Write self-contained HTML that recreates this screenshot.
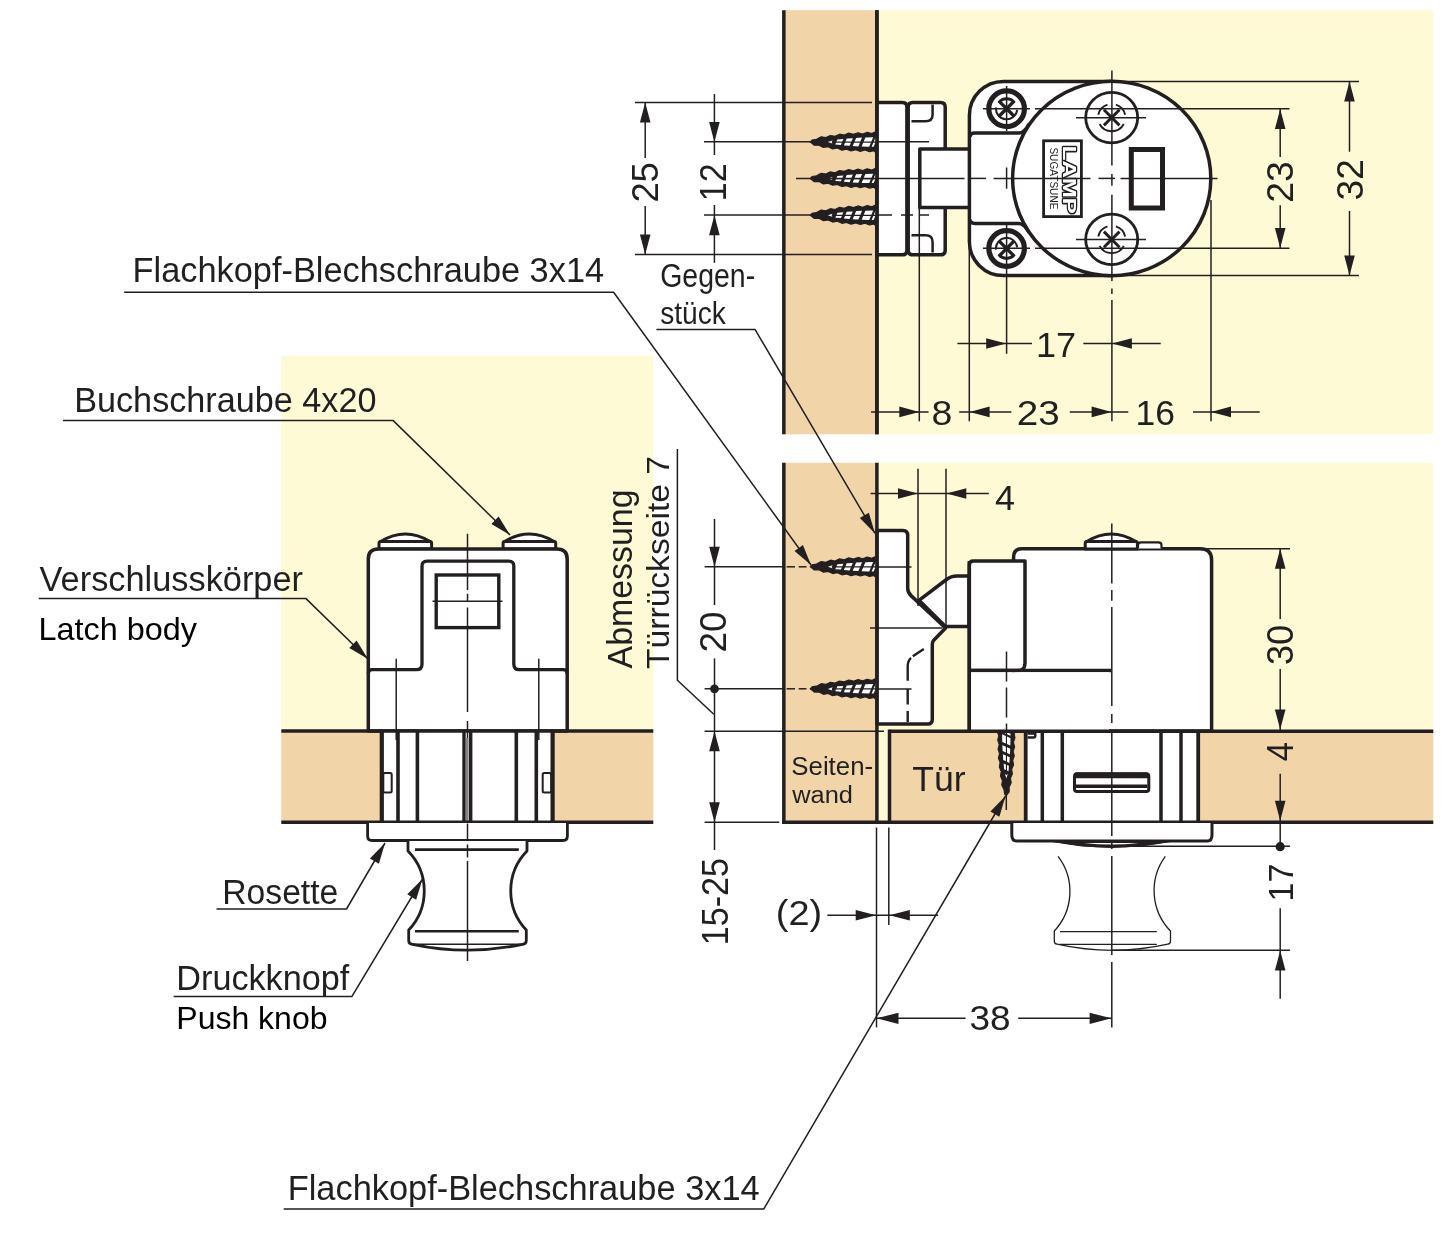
<!DOCTYPE html>
<html><head><meta charset="utf-8"><title>Push latch drawing</title>
<style>
html,body{margin:0;padding:0;background:#fff;}
svg{display:block;}
text{font-family:"Liberation Sans",sans-serif;filter:grayscale(1);}
</style></head><body>
<svg width="1445" height="1236" viewBox="0 0 1445 1236">
<rect x="877" y="10.2" width="556.1" height="424.1" fill="#fffad6" />
<rect x="783.75" y="10.2" width="93.25" height="424.1" fill="#f1d5a8" />
<line x1="783.85" y1="10.2" x2="783.85" y2="434.3" stroke="#231f20" stroke-width="3.5" />
<line x1="876.9" y1="10.2" x2="876.9" y2="434.3" stroke="#231f20" stroke-width="3.5" />
<rect x="877" y="462.8" width="556.1" height="268.5" fill="#fffad6" />
<rect x="783.75" y="462.8" width="93.25" height="359.5" fill="#f1d5a8" />
<rect x="877" y="731" width="13" height="91.5" fill="#fffad6" />
<rect x="889.5" y="731.25" width="543.8" height="91.25" fill="#f1d5a8" />
<rect x="281.3" y="355.6" width="372" height="375.4" fill="#fffad6" />
<rect x="281.3" y="731" width="372" height="91.3" fill="#f1d5a8" />
<line x1="635" y1="102.6" x2="872" y2="102.6" stroke="#231f20" stroke-width="1.5" />
<line x1="635" y1="254.6" x2="872" y2="254.6" stroke="#231f20" stroke-width="1.5" />
<line x1="704" y1="141.8" x2="812" y2="141.8" stroke="#231f20" stroke-width="1.5" />
<line x1="704" y1="215.1" x2="812" y2="215.1" stroke="#231f20" stroke-width="1.5" />
<path d="M877,102.5 H902.4 Q906.9,102.5 906.9,107 V250.3 Q906.9,254.8 902.4,254.8 H877 Z" fill="#fff" stroke="#231f20" stroke-width="3.5" stroke-linejoin="round" />
<path d="M912.7,102.5 Q908.2,102.5 908.2,107 V250.3 Q908.2,254.8 912.7,254.8 H940.5 Q945.2,254.8 945.2,250.3 V107 Q945.2,102.5 940.5,102.5 Z" fill="#fff" stroke="#231f20" stroke-width="3.5" stroke-linejoin="round" />
<path d="M911.5,121.3 H925.5 Q932.6,121.3 932.6,114.5 V104.6" fill="none" stroke="#231f20" stroke-width="2.5" stroke-linejoin="round" />
<path d="M911.5,235.3 H925.5 Q932.6,235.3 932.6,242 V252.4" fill="none" stroke="#231f20" stroke-width="2.5" stroke-linejoin="round" />
<line x1="877" y1="141.8" x2="929" y2="141.8" stroke="#231f20" stroke-width="1.5" />
<line x1="877" y1="215.1" x2="929" y2="215.1" stroke="#231f20" stroke-width="1.5" stroke-dasharray="15 9 12 7 9 0"/>
<path d="M969,149 H919.8 V207.4 H969" fill="#fff" stroke="#231f20" stroke-width="3.5" stroke-linejoin="round" />
<g transform="translate(811 142) rotate(0) scale(1.0000 1.0000)"><polygon points="-0.80,0.00 0.00,-0.60 1.00,-1.90 5.60,-2.63 10.20,-5.13 14.80,-4.37 19.40,-6.52 24.00,-5.66 28.60,-7.80 33.20,-6.98 37.80,-8.83 42.40,-7.60 47.00,-9.26 51.60,-7.90 56.20,-9.59 60.80,-8.38 64.00,-9.90 64.00,9.90 63.10,8.72 58.50,9.68 53.90,8.00 49.30,9.31 44.70,7.71 40.10,8.97 35.50,7.19 30.90,8.13 26.30,5.98 21.70,6.84 17.10,4.69 12.50,5.50 7.90,3.14 3.30,3.26 0.00,0.60" fill="#231f20" stroke="#231f20" stroke-width="1.2" stroke-linejoin="round"/><polygon points="25.49,-0.45 31.29,-0.45 32.32,-2.90 26.35,-2.50" fill="#fff"/><polygon points="24.98,0.75 30.79,0.75 29.88,2.90 24.25,2.50" fill="#fff"/><polygon points="34.49,-0.45 40.39,-0.45 41.80,-3.80 35.73,-3.40" fill="#fff"/><polygon points="33.98,0.75 39.89,0.75 38.60,3.80 32.87,3.40" fill="#fff"/><polygon points="43.59,-0.45 49.39,-0.45 51.05,-4.40 45.12,-4.10" fill="#fff"/><polygon points="43.09,0.75 48.89,0.75 47.35,4.40 41.68,4.10" fill="#fff"/><polygon points="52.69,-0.45 60.39,-0.45 62.17,-4.70 54.39,-4.50" fill="#fff"/><polygon points="52.19,0.75 59.89,0.75 58.23,4.70 50.61,4.50" fill="#fff"/><polygon points="62.79,-0.45 64.79,-0.45 66.57,-4.70 64.57,-4.70" fill="#fff"/><polygon points="62.29,0.75 64.28,0.75 62.63,4.70 60.63,4.70" fill="#fff"/><polygon points="16.8,0.1 21.6,-1.5 20.6,0.1 21.4,1.6" fill="#fff"/></g>
<g transform="translate(811 178.4) rotate(0) scale(1.0000 1.0000)"><polygon points="-0.80,0.00 0.00,-0.60 1.00,-1.90 5.60,-2.63 10.20,-5.13 14.80,-4.37 19.40,-6.52 24.00,-5.66 28.60,-7.80 33.20,-6.98 37.80,-8.83 42.40,-7.60 47.00,-9.26 51.60,-7.90 56.20,-9.59 60.80,-8.38 64.00,-9.90 64.00,9.90 63.10,8.72 58.50,9.68 53.90,8.00 49.30,9.31 44.70,7.71 40.10,8.97 35.50,7.19 30.90,8.13 26.30,5.98 21.70,6.84 17.10,4.69 12.50,5.50 7.90,3.14 3.30,3.26 0.00,0.60" fill="#231f20" stroke="#231f20" stroke-width="1.2" stroke-linejoin="round"/><polygon points="25.49,-0.45 31.29,-0.45 32.32,-2.90 26.35,-2.50" fill="#fff"/><polygon points="24.98,0.75 30.79,0.75 29.88,2.90 24.25,2.50" fill="#fff"/><polygon points="34.49,-0.45 40.39,-0.45 41.80,-3.80 35.73,-3.40" fill="#fff"/><polygon points="33.98,0.75 39.89,0.75 38.60,3.80 32.87,3.40" fill="#fff"/><polygon points="43.59,-0.45 49.39,-0.45 51.05,-4.40 45.12,-4.10" fill="#fff"/><polygon points="43.09,0.75 48.89,0.75 47.35,4.40 41.68,4.10" fill="#fff"/><polygon points="52.69,-0.45 60.39,-0.45 62.17,-4.70 54.39,-4.50" fill="#fff"/><polygon points="52.19,0.75 59.89,0.75 58.23,4.70 50.61,4.50" fill="#fff"/><polygon points="62.79,-0.45 64.79,-0.45 66.57,-4.70 64.57,-4.70" fill="#fff"/><polygon points="62.29,0.75 64.28,0.75 62.63,4.70 60.63,4.70" fill="#fff"/><polygon points="16.8,0.1 21.6,-1.5 20.6,0.1 21.4,1.6" fill="#fff"/></g>
<g transform="translate(811 215.2) rotate(0) scale(1.0000 1.0000)"><polygon points="-0.80,0.00 0.00,-0.60 1.00,-1.90 5.60,-2.63 10.20,-5.13 14.80,-4.37 19.40,-6.52 24.00,-5.66 28.60,-7.80 33.20,-6.98 37.80,-8.83 42.40,-7.60 47.00,-9.26 51.60,-7.90 56.20,-9.59 60.80,-8.38 64.00,-9.90 64.00,9.90 63.10,8.72 58.50,9.68 53.90,8.00 49.30,9.31 44.70,7.71 40.10,8.97 35.50,7.19 30.90,8.13 26.30,5.98 21.70,6.84 17.10,4.69 12.50,5.50 7.90,3.14 3.30,3.26 0.00,0.60" fill="#231f20" stroke="#231f20" stroke-width="1.2" stroke-linejoin="round"/><polygon points="25.49,-0.45 31.29,-0.45 32.32,-2.90 26.35,-2.50" fill="#fff"/><polygon points="24.98,0.75 30.79,0.75 29.88,2.90 24.25,2.50" fill="#fff"/><polygon points="34.49,-0.45 40.39,-0.45 41.80,-3.80 35.73,-3.40" fill="#fff"/><polygon points="33.98,0.75 39.89,0.75 38.60,3.80 32.87,3.40" fill="#fff"/><polygon points="43.59,-0.45 49.39,-0.45 51.05,-4.40 45.12,-4.10" fill="#fff"/><polygon points="43.09,0.75 48.89,0.75 47.35,4.40 41.68,4.10" fill="#fff"/><polygon points="52.69,-0.45 60.39,-0.45 62.17,-4.70 54.39,-4.50" fill="#fff"/><polygon points="52.19,0.75 59.89,0.75 58.23,4.70 50.61,4.50" fill="#fff"/><polygon points="62.79,-0.45 64.79,-0.45 66.57,-4.70 64.57,-4.70" fill="#fff"/><polygon points="62.29,0.75 64.28,0.75 62.63,4.70 60.63,4.70" fill="#fff"/><polygon points="16.8,0.1 21.6,-1.5 20.6,0.1 21.4,1.6" fill="#fff"/></g>
<line x1="876.9" y1="10.2" x2="876.9" y2="434.3" stroke="#231f20" stroke-width="3.5" />
<path d="M1111.5,81.4 H1003.4 A34,34 0 0 0 969.4,115.4 V241.6 A34,34 0 0 0 1003.4,275.6 H1111.5 Z" fill="#fff" stroke="#231f20" stroke-width="3.5" stroke-linejoin="round" />
<ellipse cx="1111.7" cy="178.5" rx="99.1" ry="97.2" fill="#fff" stroke="#231f20" stroke-width="3.5"/>
<path d="M970,137 Q970,133.1 975,133.1 H1019 Q1024,133.1 1029,124" fill="none" stroke="#231f20" stroke-width="3.5" stroke-linejoin="round" />
<path d="M970,219.5 Q970,223.4 975,223.4 H1019 Q1024,223.4 1029,232.5" fill="none" stroke="#231f20" stroke-width="3.5" stroke-linejoin="round" />
<circle cx="1006.6" cy="108.7" r="17.8" fill="#fff" stroke="#231f20" stroke-width="5.2"/>
<path d="M999.0,101.10000000000001 L1014.2,116.3 M1014.2,101.10000000000001 L999.0,116.3" stroke="#231f20" stroke-width="3.4" fill="none"/>
<path d="M996.0,107.5 A10.6,10.6 0 0 0 1017.2,109.9" stroke="#231f20" stroke-width="2" fill="none"/>
<path d="M998.80,102.60 A9.9,9.9 0 0 1 1014.40,102.60" stroke="#231f20" stroke-width="3" fill="none"/>
<circle cx="1006.6" cy="248.5" r="17.8" fill="#fff" stroke="#231f20" stroke-width="5.2"/>
<path d="M999.0,240.9 L1014.2,256.1 M1014.2,240.9 L999.0,256.1" stroke="#231f20" stroke-width="3.4" fill="none"/>
<path d="M996.0,249.7 A10.6,10.6 0 0 1 1017.2,247.3" stroke="#231f20" stroke-width="2" fill="none"/>
<path d="M998.80,254.60 A9.9,9.9 0 0 0 1014.40,254.60" stroke="#231f20" stroke-width="3" fill="none"/>
<ellipse cx="1111.7" cy="117.6" rx="26" ry="25.2" fill="#fff" stroke="#231f20" stroke-width="2.8"/>
<path d="M1103.9,109.8 L1119.5,125.39999999999999 M1119.5,109.8 L1103.9,125.39999999999999" stroke="#231f20" stroke-width="2.9" fill="none"/>
<path d="M1123.80,124.03 A13.7,13.7 0 0 1 1099.60,124.03" stroke="#231f20" stroke-width="1.9" fill="none"/>
<path d="M1098.30,114.75 A13.7,13.7 0 0 1 1107.47,104.57" stroke="#231f20" stroke-width="1.9" fill="none"/>
<path d="M1115.93,104.57 A13.7,13.7 0 0 1 1125.10,114.75" stroke="#231f20" stroke-width="1.9" fill="none"/>
<ellipse cx="1111.7" cy="239.4" rx="26" ry="25.2" fill="#fff" stroke="#231f20" stroke-width="2.8"/>
<path d="M1103.9,231.6 L1119.5,247.20000000000002 M1119.5,231.6 L1103.9,247.20000000000002" stroke="#231f20" stroke-width="2.9" fill="none"/>
<path d="M1123.80,245.83 A13.7,13.7 0 0 1 1099.60,245.83" stroke="#231f20" stroke-width="1.9" fill="none"/>
<path d="M1098.30,236.55 A13.7,13.7 0 0 1 1107.47,226.37" stroke="#231f20" stroke-width="1.9" fill="none"/>
<path d="M1115.93,226.37 A13.7,13.7 0 0 1 1125.10,236.55" stroke="#231f20" stroke-width="1.9" fill="none"/>
<rect x="1131.3" y="149.5" width="31.2" height="58.5" fill="#fff" stroke="#231f20" stroke-width="5"/>
<rect x="1043.6" y="140.8" width="37.8" height="75.8" fill="#fff" stroke="#231f20" stroke-width="2.8"/>
<text x="1062.8" y="145.8" font-size="18" font-weight="bold" fill="#fff" stroke="#231f20" stroke-width="2.5" paint-order="stroke" stroke-linejoin="round" textLength="68" lengthAdjust="spacingAndGlyphs" transform="rotate(90 1062.8 145.8)">LAMP</text>
<text x="1049.6" y="147.4" font-size="11.8" fill="#231f20" textLength="62" lengthAdjust="spacingAndGlyphs" transform="rotate(90 1049.6 147.4)">SUGATSUNE</text>
<line x1="796" y1="178.4" x2="964.5" y2="178.4" stroke="#231f20" stroke-width="1.5" />
<line x1="970.3" y1="178.4" x2="986" y2="178.4" stroke="#231f20" stroke-width="1.5" />
<line x1="993.6" y1="178.4" x2="1090.5" y2="178.4" stroke="#231f20" stroke-width="1.5" />
<line x1="1098.5" y1="178.4" x2="1115" y2="178.4" stroke="#231f20" stroke-width="1.5" />
<line x1="1120.5" y1="178.4" x2="1217.5" y2="178.4" stroke="#231f20" stroke-width="1.5" />
<line x1="1006.6" y1="167.5" x2="1006.6" y2="188.7" stroke="#231f20" stroke-width="1.5" />
<line x1="1111.9" y1="70.5" x2="1111.9" y2="165.6" stroke="#231f20" stroke-width="1.5" />
<line x1="1111.9" y1="174" x2="1111.9" y2="185.8" stroke="#231f20" stroke-width="1.5" />
<line x1="1111.9" y1="194.7" x2="1111.9" y2="281" stroke="#231f20" stroke-width="1.5" />
<line x1="1111.9" y1="288.5" x2="1111.9" y2="294" stroke="#231f20" stroke-width="1.5" />
<line x1="1111.9" y1="300" x2="1111.9" y2="421.3" stroke="#231f20" stroke-width="1.5" />
<line x1="983" y1="108.7" x2="1030" y2="108.7" stroke="#231f20" stroke-width="1.5" />
<line x1="1035" y1="108.7" x2="1289.5" y2="108.7" stroke="#231f20" stroke-width="1.5" />
<line x1="983" y1="248.3" x2="1030" y2="248.3" stroke="#231f20" stroke-width="1.5" />
<line x1="1035" y1="248.3" x2="1289.5" y2="248.3" stroke="#231f20" stroke-width="1.5" />
<line x1="1006.6" y1="86" x2="1006.6" y2="131" stroke="#231f20" stroke-width="1.5" />
<line x1="1006.6" y1="225" x2="1006.6" y2="353.8" stroke="#231f20" stroke-width="1.5" />
<line x1="1076" y1="117.8" x2="1146" y2="117.8" stroke="#231f20" stroke-width="1.5" />
<line x1="1076" y1="239.5" x2="1146" y2="239.5" stroke="#231f20" stroke-width="1.5" />
<line x1="1111.9" y1="81.4" x2="1359" y2="81.4" stroke="#231f20" stroke-width="1.5" />
<line x1="1111.9" y1="275.6" x2="1359" y2="275.6" stroke="#231f20" stroke-width="1.5" />
<line x1="1280.2" y1="108.7" x2="1280.2" y2="157" stroke="#231f20" stroke-width="1.5" />
<line x1="1280.2" y1="205.2" x2="1280.2" y2="248.3" stroke="#231f20" stroke-width="1.5" />
<polygon points="1280.20,108.90 1285.50,128.90 1274.90,128.90" fill="#231f20"/>
<polygon points="1280.20,248.10 1274.90,228.10 1285.50,228.10" fill="#231f20"/>
<text font-size="100" fill="#231f20" transform="translate(1293.23 202.67) rotate(-90) scale(0.3734 0.3676)">23</text>
<line x1="1349.5" y1="81.4" x2="1349.5" y2="151.7" stroke="#231f20" stroke-width="1.5" />
<line x1="1349.5" y1="211" x2="1349.5" y2="275.6" stroke="#231f20" stroke-width="1.5" />
<polygon points="1349.50,81.60 1354.80,101.60 1344.20,101.60" fill="#231f20"/>
<polygon points="1349.50,275.40 1344.20,255.40 1354.80,255.40" fill="#231f20"/>
<text font-size="100" fill="#231f20" transform="translate(1362.64 200.48) rotate(-90) scale(0.3706 0.3648)">32</text>
<line x1="645.2" y1="102.6" x2="645.2" y2="158" stroke="#231f20" stroke-width="1.5" />
<line x1="645.2" y1="206" x2="645.2" y2="254.6" stroke="#231f20" stroke-width="1.5" />
<polygon points="645.20,102.60 650.50,122.60 639.90,122.60" fill="#231f20"/>
<polygon points="645.20,254.60 639.90,234.60 650.50,234.60" fill="#231f20"/>
<text font-size="100" fill="#231f20" transform="translate(658.23 202.62) rotate(-90) scale(0.3637 0.3676)">25</text>
<line x1="714.4" y1="94" x2="714.4" y2="155" stroke="#231f20" stroke-width="1.5" />
<line x1="714.4" y1="205" x2="714.4" y2="262.8" stroke="#231f20" stroke-width="1.5" />
<polygon points="714.40,142.00 709.10,122.00 719.70,122.00" fill="#231f20"/>
<polygon points="714.40,215.20 719.70,235.20 709.10,235.20" fill="#231f20"/>
<text font-size="100" fill="#231f20" transform="translate(725.90 201.16) rotate(-90) scale(0.3411 0.3614)">12</text>
<line x1="919.3" y1="208" x2="919.3" y2="421.3" stroke="#231f20" stroke-width="1.5" />
<line x1="969.3" y1="245" x2="969.3" y2="421.3" stroke="#231f20" stroke-width="1.5" />
<line x1="1211" y1="200" x2="1211" y2="421.3" stroke="#231f20" stroke-width="1.5" />
<line x1="957.4" y1="343.5" x2="1032" y2="343.5" stroke="#231f20" stroke-width="1.5" />
<line x1="1083.3" y1="343.5" x2="1160.7" y2="343.5" stroke="#231f20" stroke-width="1.5" />
<polygon points="1006.20,343.50 986.20,348.80 986.20,338.20" fill="#231f20"/>
<polygon points="1111.90,343.50 1131.90,338.20 1131.90,348.80" fill="#231f20"/>
<text font-size="100" fill="#231f20" transform="translate(1035.99 356.50) scale(0.3614 0.3464)">17</text>
<line x1="871" y1="411.9" x2="928.6" y2="411.9" stroke="#231f20" stroke-width="1.5" />
<polygon points="919.30,411.90 899.30,417.20 899.30,406.60" fill="#231f20"/>
<text font-size="100" fill="#231f20" transform="translate(931.41 425.46) scale(0.3745 0.3423)">8</text>
<line x1="959.2" y1="411.9" x2="1011.4" y2="411.9" stroke="#231f20" stroke-width="1.5" />
<polygon points="969.60,411.90 989.60,406.60 989.60,417.20" fill="#231f20"/>
<text font-size="100" fill="#231f20" transform="translate(1016.67 425.46) scale(0.3862 0.3423)">23</text>
<line x1="1069.8" y1="411.9" x2="1128.3" y2="411.9" stroke="#231f20" stroke-width="1.5" />
<polygon points="1111.60,411.90 1091.60,417.20 1091.60,406.60" fill="#231f20"/>
<text font-size="100" fill="#231f20" transform="translate(1135.54 425.46) scale(0.3545 0.3423)">16</text>
<line x1="1193" y1="411.9" x2="1259.7" y2="411.9" stroke="#231f20" stroke-width="1.5" />
<polygon points="1211.00,411.90 1231.00,406.60 1231.00,417.20" fill="#231f20"/>
<text x="132.6" y="282.4" font-size="34.2" text-anchor="start" fill="#231f20" textLength="471.5" lengthAdjust="spacingAndGlyphs"  >Flachkopf-Blechschraube 3x14</text>
<path d="M124.2,292.3 H613.6 L811,565" fill="none" stroke="#231f20" stroke-width="1.5" stroke-linejoin="round" />
<polygon points="811.00,565.00 794.49,551.02 802.92,544.93" fill="#231f20"/>
<text font-size="100" fill="#231f20" transform="translate(660.17 286.64) scale(0.2851 0.3363)">Gegen-</text>
<text font-size="100" fill="#231f20" transform="translate(660.16 323.88) scale(0.2811 0.3170)">stück</text>
<path d="M656.4,329.4 H755 L875,533.4" fill="none" stroke="#231f20" stroke-width="1.5" stroke-linejoin="round" />
<polygon points="875.00,533.40 859.87,517.94 868.83,512.66" fill="#231f20"/>
<text x="74.2" y="412.2" font-size="34.2" text-anchor="start" fill="#231f20" textLength="302.3" lengthAdjust="spacingAndGlyphs"  >Buchschraube 4x20</text>
<path d="M63,420.4 H393 L510,535" fill="none" stroke="#231f20" stroke-width="1.5" stroke-linejoin="round" />
<polygon points="510.00,535.00 491.36,524.02 498.64,516.59" fill="#231f20"/>
<text x="39.6" y="591" font-size="34.2" text-anchor="start" fill="#231f20" textLength="263.4" lengthAdjust="spacingAndGlyphs"  >Verschlusskörper</text>
<path d="M38.7,598.6 H306 L368,659" fill="none" stroke="#231f20" stroke-width="1.5" stroke-linejoin="round" />
<polygon points="368.00,659.00 349.33,648.07 356.59,640.62" fill="#231f20"/>
<text x="38.6" y="639.6" font-size="32" text-anchor="start" fill="#000" textLength="158.4" lengthAdjust="spacingAndGlyphs"  >Latch body</text>
<text x="222.3" y="904" font-size="34.2" text-anchor="start" fill="#231f20" textLength="116" lengthAdjust="spacingAndGlyphs"  >Rosette</text>
<path d="M216.5,909 H346.5 L385,843" fill="none" stroke="#231f20" stroke-width="1.5" stroke-linejoin="round" />
<polygon points="385.00,843.00 378.91,863.76 369.93,858.52" fill="#231f20"/>
<text x="176.3" y="989.8" font-size="34.2" text-anchor="start" fill="#231f20" textLength="173" lengthAdjust="spacingAndGlyphs"  >Druckknopf</text>
<path d="M173.6,996.6 H351.8 L422.5,879" fill="none" stroke="#231f20" stroke-width="1.5" stroke-linejoin="round" />
<polygon points="422.50,879.00 416.14,899.68 407.22,894.32" fill="#231f20"/>
<text x="176.3" y="1028.5" font-size="32" text-anchor="start" fill="#000" textLength="151.2" lengthAdjust="spacingAndGlyphs"  >Push knob</text>
<text x="287.7" y="1199.6" font-size="34.2" text-anchor="start" fill="#231f20" textLength="472" lengthAdjust="spacingAndGlyphs"  >Flachkopf-Blechschraube 3x14</text>
<path d="M283.7,1209.1 H763.7 L1005.5,796" fill="none" stroke="#231f20" stroke-width="1.5" stroke-linejoin="round" />
<polygon points="1005.50,796.00 999.37,816.75 990.40,811.49" fill="#231f20"/>
<path d="M380.5,541.5 Q405.3,526.3 430.1,541.5 Z" fill="#fff" stroke="#231f20" stroke-width="3.0" stroke-linejoin="round" />
<path d="M379,549 V543.3 Q379,541.5 381,541.5 H429.6 Q431.6,541.5 431.6,543.3 V549 Z" fill="#fff" stroke="#231f20" stroke-width="3.0" stroke-linejoin="round" />
<path d="M504.6,541.5 Q529.4,526.3 554.2,541.5 Z" fill="#fff" stroke="#231f20" stroke-width="3.0" stroke-linejoin="round" />
<path d="M503.1,549 V543.3 Q503.1,541.5 505.1,541.5 H553.7 Q555.7,541.5 555.7,543.3 V549 Z" fill="#fff" stroke="#231f20" stroke-width="3.0" stroke-linejoin="round" />
<path d="M368.3,731 V559 Q368.3,549 378.5,549 H557 Q567.2,549 567.2,559 V731 Z" fill="#fff" stroke="#231f20" stroke-width="3.5" stroke-linejoin="round" />
<path d="M368.3,673.5 Q368.3,669.7 372.3,669.7 H416.5 Q422,669.7 422,664 V566 Q422,561.1 427,561.1 H508.8 Q513.8,561.1 513.8,566 V664 Q513.8,669.7 519.3,669.7 H563 Q567.2,669.7 567.2,673.5" fill="none" stroke="#231f20" stroke-width="3.3" stroke-linejoin="round" />
<rect x="436.2" y="575" width="62.6" height="52.6" fill="#fff" stroke="#231f20" stroke-width="3.4"/>
<line x1="432.5" y1="601.3" x2="502.5" y2="601.3" stroke="#231f20" stroke-width="1.5" />
<rect x="381.3" y="731" width="171.8" height="91.3" fill="#fff" />
<line x1="381.8" y1="731" x2="381.8" y2="822.3" stroke="#231f20" stroke-width="4.2" />
<line x1="552.6" y1="731" x2="552.6" y2="822.3" stroke="#231f20" stroke-width="4.2" />
<line x1="398" y1="731" x2="398" y2="822.3" stroke="#231f20" stroke-width="3.6" />
<line x1="417.4" y1="731" x2="417.4" y2="822.3" stroke="#231f20" stroke-width="3.6" />
<line x1="516.3" y1="731" x2="516.3" y2="822.3" stroke="#231f20" stroke-width="3.6" />
<line x1="536.3" y1="731" x2="536.3" y2="822.3" stroke="#231f20" stroke-width="3.6" />
<line x1="464" y1="731" x2="464" y2="822.3" stroke="#231f20" stroke-width="3.4" />
<line x1="470.7" y1="731" x2="470.7" y2="822.3" stroke="#231f20" stroke-width="3.4" />
<line x1="467.3" y1="738" x2="467.3" y2="821" stroke="#858585" stroke-width="2.8"/>
<line x1="396.2" y1="658.8" x2="396.2" y2="740" stroke="#231f20" stroke-width="1.5" />
<line x1="538.8" y1="658.8" x2="538.8" y2="740" stroke="#231f20" stroke-width="1.5" />
<rect x="383.3" y="773" width="8.4" height="19.6" rx="1.5" fill="#fff" stroke="#231f20" stroke-width="2"/>
<rect x="542.7" y="773" width="8.4" height="19.6" rx="1.5" fill="#fff" stroke="#231f20" stroke-width="2"/>
<line x1="281.3" y1="731.1" x2="653.3" y2="731.1" stroke="#231f20" stroke-width="3.5" />
<line x1="281.3" y1="822.3" x2="653.3" y2="822.3" stroke="#231f20" stroke-width="3.5" />
<path d="M367.6,823 V836 Q367.6,840.5 372,840.5 H563 Q567.4,840.5 567.4,836 V823" fill="#fff" stroke="#231f20" stroke-width="2.8" stroke-linejoin="round" />
<path d="M408,841 V851 A57,57 0 0 1 408.7,930 V940.5 Q408.7,944 412.5,944.3 Q467.5,956 522.5,944.3 Q526.3,944 526.3,940.5 V930 A57,57 0 0 1 527,851 V841" fill="#fff" stroke="#231f20" stroke-width="2.8" stroke-linejoin="round" />
<line x1="412.5" y1="944.3" x2="522.5" y2="944.3" stroke="#231f20" stroke-width="1.4" />
<line x1="415" y1="849.6" x2="518.8" y2="849.6" stroke="#231f20" stroke-width="2.6" />
<line x1="415" y1="931.3" x2="518.8" y2="931.3" stroke="#231f20" stroke-width="2.6" />
<line x1="467.5" y1="533.75" x2="467.5" y2="590" stroke="#231f20" stroke-width="1.5" />
<line x1="467.5" y1="593.75" x2="467.5" y2="601.25" stroke="#231f20" stroke-width="1.5" />
<line x1="467.5" y1="607.5" x2="467.5" y2="712" stroke="#231f20" stroke-width="1.5" />
<line x1="467.5" y1="721" x2="467.5" y2="738" stroke="#231f20" stroke-width="1.5" />
<line x1="467.5" y1="823.5" x2="467.5" y2="841" stroke="#231f20" stroke-width="1.5" />
<line x1="467.5" y1="844.5" x2="467.5" y2="857.5" stroke="#231f20" stroke-width="1.5" />
<line x1="467.5" y1="861" x2="467.5" y2="961" stroke="#231f20" stroke-width="1.5" />
<line x1="704.6" y1="566.8" x2="784" y2="566.8" stroke="#231f20" stroke-width="1.5" />
<line x1="786.6" y1="566.8" x2="795" y2="566.8" stroke="#231f20" stroke-width="1.5" />
<line x1="798.7" y1="566.8" x2="806.5" y2="566.8" stroke="#231f20" stroke-width="1.5" />
<line x1="704.6" y1="688.8" x2="784" y2="688.8" stroke="#231f20" stroke-width="1.5" />
<line x1="786.6" y1="688.8" x2="795" y2="688.8" stroke="#231f20" stroke-width="1.5" />
<line x1="798.7" y1="688.8" x2="806.5" y2="688.8" stroke="#231f20" stroke-width="1.5" />
<line x1="704.6" y1="731.2" x2="884" y2="731.2" stroke="#231f20" stroke-width="1.5" />
<line x1="704.6" y1="822.3" x2="779.3" y2="822.3" stroke="#231f20" stroke-width="1.5" />
<path d="M877,530.5 H903 Q907.7,530.5 907.7,535.5 V588 Q907.7,592.5 911,595.6 L945.6,628 L933.5,640.5 Q932.3,642 932.3,645 V719.5 Q932.3,724.1 927.5,724.1 H877 Z" fill="#fff" stroke="#231f20" stroke-width="3.5" stroke-linejoin="round" />
<path d="M923.8,648.9 L912.8,656.2 M911,657.8 Q907.7,661 907.7,666 V680.8 M907.7,689 V704.5 M907.7,711 V722" fill="none" stroke="#231f20" stroke-width="2.4" stroke-linejoin="round" />
<line x1="870" y1="628" x2="942.5" y2="628" stroke="#231f20" stroke-width="1.5" />
<g transform="translate(811 566.7) rotate(0) scale(1.0000 1.0000)"><polygon points="-0.80,0.00 0.00,-0.60 1.00,-1.90 5.60,-2.63 10.20,-5.13 14.80,-4.37 19.40,-6.52 24.00,-5.66 28.60,-7.80 33.20,-6.98 37.80,-8.83 42.40,-7.60 47.00,-9.26 51.60,-7.90 56.20,-9.59 60.80,-8.38 64.00,-9.90 64.00,9.90 63.10,8.72 58.50,9.68 53.90,8.00 49.30,9.31 44.70,7.71 40.10,8.97 35.50,7.19 30.90,8.13 26.30,5.98 21.70,6.84 17.10,4.69 12.50,5.50 7.90,3.14 3.30,3.26 0.00,0.60" fill="#231f20" stroke="#231f20" stroke-width="1.2" stroke-linejoin="round"/><polygon points="25.49,-0.45 31.29,-0.45 32.32,-2.90 26.35,-2.50" fill="#fff"/><polygon points="24.98,0.75 30.79,0.75 29.88,2.90 24.25,2.50" fill="#fff"/><polygon points="34.49,-0.45 40.39,-0.45 41.80,-3.80 35.73,-3.40" fill="#fff"/><polygon points="33.98,0.75 39.89,0.75 38.60,3.80 32.87,3.40" fill="#fff"/><polygon points="43.59,-0.45 49.39,-0.45 51.05,-4.40 45.12,-4.10" fill="#fff"/><polygon points="43.09,0.75 48.89,0.75 47.35,4.40 41.68,4.10" fill="#fff"/><polygon points="52.69,-0.45 60.39,-0.45 62.17,-4.70 54.39,-4.50" fill="#fff"/><polygon points="52.19,0.75 59.89,0.75 58.23,4.70 50.61,4.50" fill="#fff"/><polygon points="62.79,-0.45 64.79,-0.45 66.57,-4.70 64.57,-4.70" fill="#fff"/><polygon points="62.29,0.75 64.28,0.75 62.63,4.70 60.63,4.70" fill="#fff"/><polygon points="16.8,0.1 21.6,-1.5 20.6,0.1 21.4,1.6" fill="#fff"/></g>
<g transform="translate(811 688.8) rotate(0) scale(1.0000 1.0000)"><polygon points="-0.80,0.00 0.00,-0.60 1.00,-1.90 5.60,-2.63 10.20,-5.13 14.80,-4.37 19.40,-6.52 24.00,-5.66 28.60,-7.80 33.20,-6.98 37.80,-8.83 42.40,-7.60 47.00,-9.26 51.60,-7.90 56.20,-9.59 60.80,-8.38 64.00,-9.90 64.00,9.90 63.10,8.72 58.50,9.68 53.90,8.00 49.30,9.31 44.70,7.71 40.10,8.97 35.50,7.19 30.90,8.13 26.30,5.98 21.70,6.84 17.10,4.69 12.50,5.50 7.90,3.14 3.30,3.26 0.00,0.60" fill="#231f20" stroke="#231f20" stroke-width="1.2" stroke-linejoin="round"/><polygon points="25.49,-0.45 31.29,-0.45 32.32,-2.90 26.35,-2.50" fill="#fff"/><polygon points="24.98,0.75 30.79,0.75 29.88,2.90 24.25,2.50" fill="#fff"/><polygon points="34.49,-0.45 40.39,-0.45 41.80,-3.80 35.73,-3.40" fill="#fff"/><polygon points="33.98,0.75 39.89,0.75 38.60,3.80 32.87,3.40" fill="#fff"/><polygon points="43.59,-0.45 49.39,-0.45 51.05,-4.40 45.12,-4.10" fill="#fff"/><polygon points="43.09,0.75 48.89,0.75 47.35,4.40 41.68,4.10" fill="#fff"/><polygon points="52.69,-0.45 60.39,-0.45 62.17,-4.70 54.39,-4.50" fill="#fff"/><polygon points="52.19,0.75 59.89,0.75 58.23,4.70 50.61,4.50" fill="#fff"/><polygon points="62.79,-0.45 64.79,-0.45 66.57,-4.70 64.57,-4.70" fill="#fff"/><polygon points="62.29,0.75 64.28,0.75 62.63,4.70 60.63,4.70" fill="#fff"/><polygon points="16.8,0.1 21.6,-1.5 20.6,0.1 21.4,1.6" fill="#fff"/></g>
<line x1="877" y1="566.9" x2="911.5" y2="566.9" stroke="#231f20" stroke-width="1.5" />
<line x1="877" y1="688.9" x2="911.5" y2="688.9" stroke="#231f20" stroke-width="1.5" />
<path d="M969,576 H957 Q951,576 946.5,579.5 L919,600.3 L945.5,626.5 H969 Z" fill="#fff" stroke="#231f20" stroke-width="3.5" stroke-linejoin="round" />
<line x1="918" y1="468.8" x2="918" y2="606" stroke="#231f20" stroke-width="1.5" />
<line x1="946" y1="468.8" x2="946" y2="628.8" stroke="#231f20" stroke-width="1.5" />
<line x1="870.6" y1="493.5" x2="988.8" y2="493.5" stroke="#231f20" stroke-width="1.5" />
<polygon points="918.00,493.50 898.00,498.80 898.00,488.20" fill="#231f20"/>
<polygon points="946.30,493.50 966.30,488.20 966.30,498.80" fill="#231f20"/>
<text font-size="100" fill="#231f20" transform="translate(995.00 510.00) scale(0.3600 0.3493)">4</text>
<path d="M1013.6,731 V557 Q1013.6,548.8 1022,548.8 H1200 Q1211.6,548.8 1211.6,560 V731 Z" fill="#fff" stroke="#231f20" stroke-width="3.5" stroke-linejoin="round" />
<path d="M1086.7,541.5 Q1111.3,526.3 1135.9,541.5 Z" fill="#fff" stroke="#231f20" stroke-width="3.0" stroke-linejoin="round" />
<path d="M1085.2,549 V543.3 Q1085.2,541.5 1087.2,541.5 H1135.4 Q1137.4,541.5 1137.4,543.3 V549 Z" fill="#fff" stroke="#231f20" stroke-width="3.0" stroke-linejoin="round" />
<path d="M1138,548.5 V545 Q1138,542.3 1141,542.3 H1158.5 Q1161.5,542.3 1161.5,545 V548.5" fill="#fff" stroke="#231f20" stroke-width="2.2" stroke-linejoin="round" />
<path d="M969.3,731 V565 Q969.3,561 973.5,561 H1025 V663 Q1025,670.6 1018,670.6 H969.3 Z" fill="#fff" stroke="#231f20" stroke-width="3.5" stroke-linejoin="round" />
<line x1="969.3" y1="670.6" x2="1111.5" y2="670.6" stroke="#231f20" stroke-width="3.5" />
<rect x="971" y="672.2" width="138" height="58" fill="#fff" />
<line x1="969.3" y1="561" x2="969.3" y2="731" stroke="#231f20" stroke-width="3.5" />
<line x1="1006.5" y1="651.5" x2="1006.5" y2="731" stroke="#231f20" stroke-width="1.5" stroke-dasharray="30 6"/>
<line x1="1204" y1="548.8" x2="1290" y2="548.8" stroke="#231f20" stroke-width="1.5" />
<rect x="1025.7" y="731.3" width="172" height="91" fill="#fff" />
<line x1="1025.7" y1="731" x2="1025.7" y2="822.3" stroke="#231f20" stroke-width="3.8" />
<line x1="1198.2" y1="731" x2="1198.2" y2="822.3" stroke="#231f20" stroke-width="3.8" />
<line x1="1042.3" y1="731" x2="1042.3" y2="822.3" stroke="#231f20" stroke-width="3.5" />
<line x1="1062.3" y1="731" x2="1062.3" y2="822.3" stroke="#231f20" stroke-width="3.5" />
<line x1="1161" y1="731" x2="1161" y2="822.3" stroke="#231f20" stroke-width="3.5" />
<line x1="1181" y1="731" x2="1181" y2="822.3" stroke="#231f20" stroke-width="3.5" />
<path d="M1027.5,733.5 H1035.3 V735.5 Q1035.3,737.5 1033.5,737.5 H1027.5" fill="none" stroke="#231f20" stroke-width="2.4" stroke-linejoin="round" />
<rect x="1074.5" y="773.8" width="74.3" height="17.8" rx="2.5" fill="#fff" stroke="#231f20" stroke-width="3"/>
<rect x="1074.5" y="772.4" width="74.3" height="5.8" fill="#231f20" rx="1.5"/>
<line x1="1076" y1="786.3" x2="1147.5" y2="786.3" stroke="#231f20" stroke-width="3.4" />
<g transform="translate(1006.3 795) rotate(-90) scale(0.9766 0.8969)"><polygon points="-0.80,0.00 0.00,-0.60 1.00,-1.90 5.60,-2.63 10.20,-5.13 14.80,-4.37 19.40,-6.52 24.00,-5.66 28.60,-7.80 33.20,-6.98 37.80,-8.83 42.40,-7.60 47.00,-9.26 51.60,-7.90 56.20,-9.59 60.80,-8.38 64.00,-9.90 64.00,9.90 63.10,8.72 58.50,9.68 53.90,8.00 49.30,9.31 44.70,7.71 40.10,8.97 35.50,7.19 30.90,8.13 26.30,5.98 21.70,6.84 17.10,4.69 12.50,5.50 7.90,3.14 3.30,3.26 0.00,0.60" fill="#231f20" stroke="#231f20" stroke-width="1.2" stroke-linejoin="round"/><polygon points="25.49,-0.45 31.29,-0.45 32.32,-2.90 26.35,-2.50" fill="#fff"/><polygon points="24.98,0.75 30.79,0.75 29.88,2.90 24.25,2.50" fill="#fff"/><polygon points="34.49,-0.45 40.39,-0.45 41.80,-3.80 35.73,-3.40" fill="#fff"/><polygon points="33.98,0.75 39.89,0.75 38.60,3.80 32.87,3.40" fill="#fff"/><polygon points="43.59,-0.45 49.39,-0.45 51.05,-4.40 45.12,-4.10" fill="#fff"/><polygon points="43.09,0.75 48.89,0.75 47.35,4.40 41.68,4.10" fill="#fff"/><polygon points="52.69,-0.45 60.39,-0.45 62.17,-4.70 54.39,-4.50" fill="#fff"/><polygon points="52.19,0.75 59.89,0.75 58.23,4.70 50.61,4.50" fill="#fff"/><polygon points="62.79,-0.45 64.79,-0.45 66.57,-4.70 64.57,-4.70" fill="#fff"/><polygon points="62.29,0.75 64.28,0.75 62.63,4.70 60.63,4.70" fill="#fff"/><polygon points="16.8,0.1 21.6,-1.5 20.6,0.1 21.4,1.6" fill="#fff"/></g>
<line x1="1006.3" y1="795" x2="1006.3" y2="810" stroke="#231f20" stroke-width="1.5" />
<line x1="783.85" y1="462.8" x2="783.85" y2="822.3" stroke="#231f20" stroke-width="3.5" />
<line x1="876.9" y1="462.8" x2="876.9" y2="822.3" stroke="#231f20" stroke-width="3.5" />
<line x1="782" y1="822.3" x2="1433.3" y2="822.3" stroke="#231f20" stroke-width="3.5" />
<line x1="889.5" y1="731.25" x2="1433.3" y2="731.25" stroke="#231f20" stroke-width="3.5" />
<line x1="889.5" y1="729.5" x2="889.5" y2="822.3" stroke="#231f20" stroke-width="3.5" />
<path d="M1011.8,823 V834.8 Q1011.8,841 1016.5,841 H1207.5 Q1212,841 1212,834.8 V823" fill="#fff" stroke="#231f20" stroke-width="3" stroke-linejoin="round" />
<path d="M1052,841.5 Q1111.5,853.5 1171,841.5 Z" fill="#231f20" stroke="#231f20" stroke-width="1" stroke-linejoin="round" />
<path d="M1084,842.9 Q1111.5,846.2 1139,842.9 Z" fill="#fff"/>
<path d="M1058.1,856.3 A58,58 0 0 1 1054.3,931 V941 Q1054.3,943.8 1057,944.2 Q1112.4,956.5 1167.8,944.2 Q1170.5,943.8 1170.5,941 V931 A58,58 0 0 1 1165.3,856.3" fill="none" stroke="#231f20" stroke-width="1.3" stroke-linejoin="round" />
<line x1="1060" y1="931.6" x2="1156.8" y2="931.6" stroke="#231f20" stroke-width="1.3" />
<line x1="1059.5" y1="944.4" x2="1156.8" y2="944.4" stroke="#231f20" stroke-width="1.3" />
<line x1="1111.8" y1="523.6" x2="1111.8" y2="583.6" stroke="#231f20" stroke-width="1.5" />
<line x1="1111.8" y1="590" x2="1111.8" y2="600.8" stroke="#231f20" stroke-width="1.5" />
<line x1="1111.8" y1="607" x2="1111.8" y2="706" stroke="#231f20" stroke-width="1.5" />
<line x1="1111.8" y1="714" x2="1111.8" y2="723" stroke="#231f20" stroke-width="1.5" />
<line x1="1111.8" y1="731.5" x2="1111.8" y2="836" stroke="#231f20" stroke-width="1.5" />
<line x1="1111.8" y1="841" x2="1111.8" y2="849" stroke="#231f20" stroke-width="1.5" />
<line x1="1111.8" y1="856" x2="1111.8" y2="955" stroke="#231f20" stroke-width="1.5" />
<line x1="1111.8" y1="962" x2="1111.8" y2="1027.4" stroke="#231f20" stroke-width="1.5" />
<text font-size="100" fill="#231f20" transform="translate(791.34 775.45) scale(0.2581 0.2503)">Seiten-</text>
<text font-size="100" fill="#231f20" transform="translate(792.20 803.06) scale(0.2542 0.2395)">wand</text>
<text font-size="100" fill="#231f20" transform="translate(912.19 791.45) scale(0.3555 0.3486)">Tür</text>
<line x1="714.5" y1="519" x2="714.5" y2="605" stroke="#231f20" stroke-width="1.5" />
<polygon points="714.50,566.70 709.20,546.70 719.80,546.70" fill="#231f20"/>
<text font-size="100" fill="#231f20" transform="translate(725.73 652.54) rotate(-90) scale(0.3686 0.3662)">20</text>
<line x1="714.5" y1="658.4" x2="714.5" y2="731.2" stroke="#231f20" stroke-width="1.5" />
<circle cx="714.5" cy="688.8" r="4.4" fill="#231f20"/>
<line x1="714.5" y1="731.2" x2="714.5" y2="850" stroke="#231f20" stroke-width="1.5" />
<polygon points="714.50,731.20 719.80,751.20 709.20,751.20" fill="#231f20"/>
<polygon points="714.50,822.30 709.20,802.30 719.80,802.30" fill="#231f20"/>
<text font-size="100" fill="#231f20" transform="translate(727.54 945.26) rotate(-90) scale(0.3414 0.3606)">15-25</text>
<text font-size="100" fill="#231f20" transform="translate(632.09 668.47) rotate(-90) scale(0.3392 0.3433)">Abmessung</text>
<text font-size="100" fill="#231f20" transform="translate(669.48 668.97) rotate(-90) scale(0.3363 0.3170)">Türrückseite 7</text>
<path d="M677.4,449 V680.3 L713.8,714.3" fill="none" stroke="#231f20" stroke-width="1.5" stroke-linejoin="round" />
<text font-size="100" fill="#231f20" transform="translate(775.83 924.60) scale(0.3791 0.3572)">(2)</text>
<line x1="827.3" y1="915.3" x2="938.1" y2="915.3" stroke="#231f20" stroke-width="1.5" />
<polygon points="876.20,915.30 855.70,920.60 855.70,910.00" fill="#231f20"/>
<polygon points="889.30,915.30 909.80,910.00 909.80,920.60" fill="#231f20"/>
<line x1="876.5" y1="827.5" x2="876.5" y2="1027.4" stroke="#231f20" stroke-width="1.5" />
<line x1="888.8" y1="827.5" x2="888.8" y2="925" stroke="#231f20" stroke-width="1.5" />
<line x1="876.5" y1="1018.3" x2="965.6" y2="1018.3" stroke="#231f20" stroke-width="1.5" />
<line x1="1018.2" y1="1018.3" x2="1111.6" y2="1018.3" stroke="#231f20" stroke-width="1.5" />
<polygon points="876.50,1018.30 898.50,1012.70 898.50,1023.90" fill="#231f20"/>
<polygon points="1111.60,1018.30 1089.60,1023.90 1089.60,1012.70" fill="#231f20"/>
<text font-size="100" fill="#231f20" transform="translate(969.42 1030.34) scale(0.3699 0.3592)">38</text>
<line x1="1280.2" y1="548.8" x2="1280.2" y2="619" stroke="#231f20" stroke-width="1.5" />
<line x1="1280.2" y1="669" x2="1280.2" y2="731.2" stroke="#231f20" stroke-width="1.5" />
<polygon points="1280.20,548.80 1285.50,568.80 1274.90,568.80" fill="#231f20"/>
<polygon points="1280.20,729.50 1274.90,709.50 1285.50,709.50" fill="#231f20"/>
<text font-size="100" fill="#231f20" transform="translate(1292.73 665.05) rotate(-90) scale(0.3621 0.3662)">30</text>
<text font-size="100" fill="#231f20" transform="translate(1293.10 761.16) rotate(-90) scale(0.3440 0.3739)">4</text>
<line x1="1280.2" y1="773.8" x2="1280.2" y2="846.5" stroke="#231f20" stroke-width="1.5" />
<polygon points="1280.20,820.70 1274.90,800.70 1285.50,800.70" fill="#231f20"/>
<circle cx="1280.2" cy="846.7" r="4.6" fill="#231f20"/>
<line x1="1134" y1="846.3" x2="1290" y2="846.3" stroke="#231f20" stroke-width="1.5" />
<text font-size="100" fill="#231f20" transform="translate(1293.30 901.45) rotate(-90) scale(0.3401 0.3594)">17</text>
<line x1="1280.2" y1="908.2" x2="1280.2" y2="998.8" stroke="#231f20" stroke-width="1.5" />
<polygon points="1280.20,950.50 1285.50,970.50 1274.90,970.50" fill="#231f20"/>
<line x1="1111.6" y1="950.3" x2="1290" y2="950.3" stroke="#231f20" stroke-width="1.5" />
</svg>
</body></html>
